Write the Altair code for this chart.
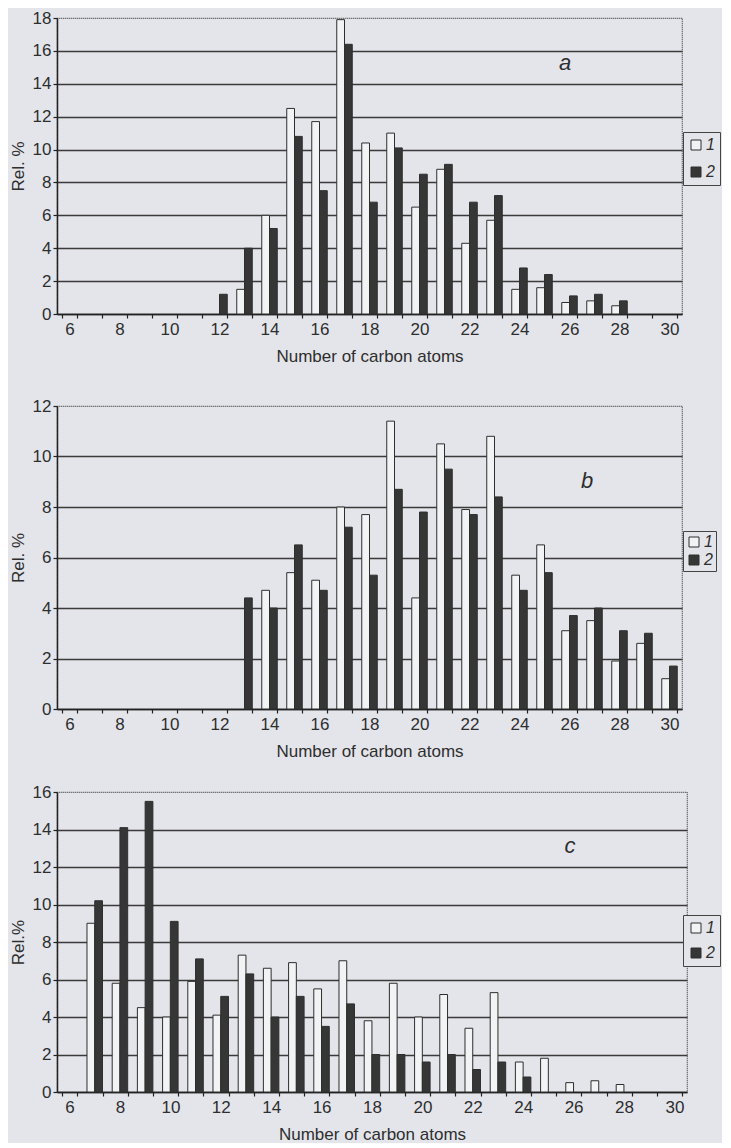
import altair as alt
import pandas as pd

carbons = [6, 7, 8, 9, 10, 11, 12, 13, 14, 15, 16, 17, 18, 19, 20, 21, 22, 23, 24, 25, 26, 27, 28, 29, 30]
series_names = ["1", "2"]

# panel a
a1 = [0, 0, 0, 0, 0, 0, 0, 1.5, 6.0, 12.5, 11.7, 17.9, 10.4, 11.0, 6.5, 8.8, 4.3, 5.7, 1.5, 1.6, 0.7, 0.8, 0.5, 0, 0]
a2 = [0, 0, 0, 0, 0, 0, 1.2, 4.0, 5.2, 10.8, 7.5, 16.4, 6.8, 10.1, 8.5, 9.1, 6.8, 7.2, 2.8, 2.4, 1.1, 1.2, 0.8, 0, 0]
# panel b
b1 = [0, 0, 0, 0, 0, 0, 0, 0, 4.7, 5.4, 5.1, 8.0, 7.7, 11.4, 4.4, 10.5, 7.9, 10.8, 5.3, 6.5, 3.1, 3.5, 1.9, 2.6, 1.2]
b2 = [0, 0, 0, 0, 0, 0, 0, 4.4, 4.0, 6.5, 4.7, 7.2, 5.3, 8.7, 7.8, 9.5, 7.7, 8.4, 4.7, 5.4, 3.7, 4.0, 3.1, 3.0, 1.7]
# panel c
c1 = [0, 9.0, 5.8, 4.5, 4.0, 5.9, 4.1, 7.3, 6.6, 6.9, 5.5, 7.0, 3.8, 5.8, 4.0, 5.2, 3.4, 5.3, 1.6, 1.8, 0.5, 0.6, 0.4, 0, 0]
c2 = [0, 10.2, 14.1, 15.5, 9.1, 7.1, 5.1, 6.3, 4.0, 5.1, 3.5, 4.7, 2.0, 2.0, 1.6, 2.0, 1.2, 1.6, 0.8, 0, 0, 0, 0, 0, 0]

y_ticks_a = [0, 2, 4, 6, 8, 10, 12, 14, 16, 18]
y_ticks_b = [0, 2, 4, 6, 8, 10, 12]
y_ticks_c = [0, 2, 4, 6, 8, 10, 12, 14, 16]

FONT = "Liberation Sans"
BG = "#e4e5ea"
INK = "#2e2e2e"


def long_df(v1, v2):
    rows = []
    for c, x1, x2 in zip(carbons, v1, v2):
        rows.append({"carbon": c, "series": "1", "value": x1})
        rows.append({"carbon": c, "series": "2", "value": x2})
    return pd.DataFrame(rows)


def panel(v1, v2, yticks, ytitle, letter, width, height, lx, ly, lpad, lrow, tx, ty):
    ymax = yticks[-1]
    df = long_df(v1, v2)
    bars = (
        alt.Chart(df)
        .transform_filter("datum.value > 0")
        .mark_bar(stroke=INK, strokeWidth=1)
        .encode(
            x=alt.X(
                "carbon:O",
                scale=alt.Scale(domain=carbons, paddingInner=0.38, paddingOuter=0.19),
                axis=alt.Axis(
                    title="Number of carbon atoms",
                    labelAngle=0,
                    tickBand="extent",
                    labelExpr="datum.value % 2 == 0 ? datum.label : ''",
                    tickSize=4,
                    labelPadding=3,
                    titlePadding=11,
                    grid=False,
                ),
            ),
            xOffset=alt.XOffset(
                "series:N",
                sort=series_names,
                scale=alt.Scale(domain=series_names, paddingInner=0, paddingOuter=0),
            ),
            y=alt.Y(
                "value:Q",
                scale=alt.Scale(domain=[0, ymax], nice=False),
                axis=alt.Axis(
                    title=ytitle,
                    values=yticks,
                    grid=True,
                    gridColor="#3a3a3a",
                    gridWidth=1.4,
                    gridOpacity={"condition": {"test": f"datum.value >= {ymax}", "value": 0}, "value": 1},
                    tickSize=4,
                    labelPadding=2,
                    titlePadding=5,
                ),
            ),
            color=alt.Color(
                "series:N",
                scale=alt.Scale(domain=series_names, range=["#f2f3f5", "#363636"]),
                legend=alt.Legend(
                    title=None,
                    orient="none",
                    legendX=lx,
                    legendY=ly,
                    symbolType="square",
                    symbolSize=100,
                    symbolStrokeColor=INK,
                    symbolStrokeWidth=1,
                    labelFont=FONT,
                    labelFontSize=16,
                    labelFontStyle="italic",
                    labelColor=INK,
                    strokeColor="#444",
                    fillColor=BG,
                    padding=lpad,
                    rowPadding=lrow,
                    labelOffset=2,
                ),
            ),
        )
    )
    txt = (
        alt.Chart(pd.DataFrame({"t": [letter]}))
        .mark_text(font=FONT, fontSize=22, fontStyle="italic", color=INK, baseline="middle")
        .encode(text="t:N", x=alt.value(tx), y=alt.value(ty))
    )
    return alt.layer(bars, txt).properties(width=width, height=height)


pa = panel(a1, a2, y_ticks_a, "Rel. %", "a", 625, 296, 626, 114, 5, 11, 508, 45)
pb = panel(b1, b2, y_ticks_b, "Rel. %", "b", 625, 303, 626, 125, 3, 2, 530, 75)
pc = panel(c1, c2, y_ticks_c, "Rel.%", "c", 630, 300, 626, 123, 5, 9, 513, 54)

top = alt.vconcat(pa, pb, spacing=31).resolve_scale(x="independent", y="independent", color="independent")
chart = (
    alt.vconcat(top, pc, spacing=22)
    .resolve_scale(x="independent", y="independent", color="independent")
    .configure(background=BG, padding={"left": 0, "top": 0, "right": 0, "bottom": 0})
    .configure_view(stroke="#444", strokeDash=[1, 1], strokeWidth=1.2)
    .configure_axis(
        labelFont=FONT,
        titleFont=FONT,
        labelFontSize=17,
        titleFontSize=17,
        titleFontWeight="normal",
        labelColor=INK,
        titleColor=INK,
        domainColor="#222",
        domainWidth=1.5,
        tickColor="#222",
        tickWidth=1.2,
    )
)

chart.save("out.html", embed_options={"renderer": "svg", "actions": False})
